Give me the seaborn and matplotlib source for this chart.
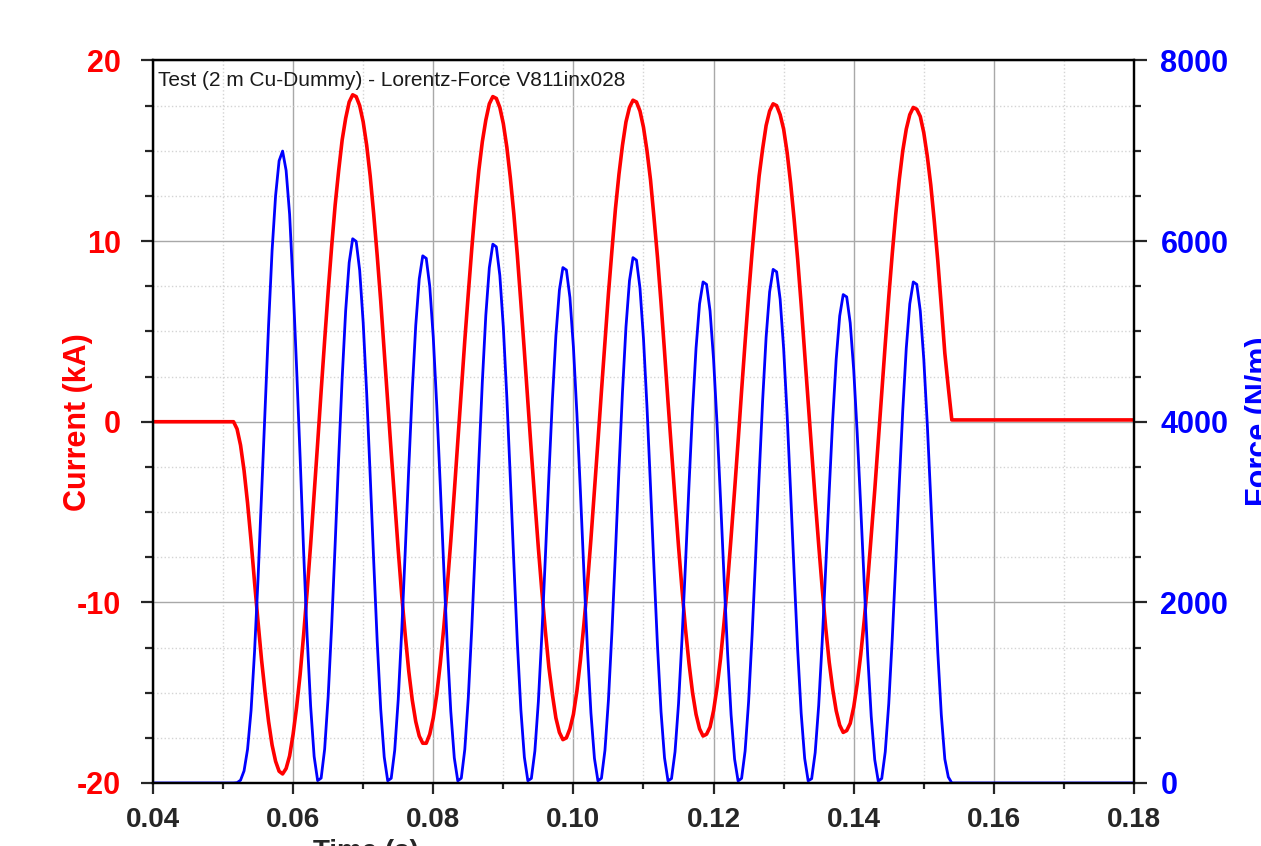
import matplotlib
matplotlib.use("Agg")
import matplotlib.pyplot as plt
import seaborn as sns
import numpy as np
import pandas as pd
from matplotlib.ticker import MultipleLocator, FormatStrFormatter

sns.set_style("white")
plt.rcParams['font.family'] = ['Liberation Sans', 'DejaVu Sans']
plt.rcParams['font.weight'] = 'bold'
plt.rcParams['axes.unicode_minus'] = False

title = "Test (2 m Cu-Dummy) - Lorentz-Force V811inx028"

# values, one sample every 0.5 ms from 0.0515 s to 0.1540 s
t_first = 0.0515
t_step = 0.0005

current_ka = [
    0.0, -0.4, -1.3, -2.7, -4.5, -6.6, -8.9, -11.1, -13.2, -15.0, -16.6, -17.9, -18.8,
    -19.35, -19.5, -19.2, -18.5, -17.3, -15.8, -14.0, -11.8, -9.4, -6.8, -4.0, -1.2,
    1.7, 4.5, 7.2, 9.7, 12.0, 13.9, 15.6, 16.8, 17.7, 18.1, 18.0, 17.5, 16.6, 15.3, 13.6, 11.5, 9.2, 6.7, 3.9, 1.1,
    -1.7, -4.4, -7.1, -9.6, -11.8, -13.8, -15.4, -16.6, -17.4, -17.8, -17.8, -17.3, -16.4, -15.1, -13.4, -11.4, -9.1, -6.6, -3.9, -1.1,
    1.7, 4.5, 7.1, 9.6, 11.9, 13.9, 15.5, 16.7, 17.6, 18.0, 17.9, 17.4, 16.5, 15.2, 13.5, 11.5, 9.2, 6.6, 3.9, 1.1,
    -1.7, -4.4, -7.0, -9.4, -11.6, -13.6, -15.1, -16.4, -17.2, -17.6, -17.5, -17.0, -16.2, -14.9, -13.2, -11.2, -9.0, -6.5, -3.8, -1.1,
    1.7, 4.4, 7.1, 9.5, 11.8, 13.7, 15.3, 16.6, 17.4, 17.8, 17.7, 17.2, 16.3, 15.0, 13.4, 11.3, 9.1, 6.6, 3.9, 1.1,
    -1.6, -4.3, -6.9, -9.3, -11.5, -13.4, -15.0, -16.2, -17.0, -17.4, -17.3, -16.9, -16.0, -14.7, -13.1, -11.1, -8.9, -6.4, -3.8, -1.1,
    1.7, 4.4, 7.0, 9.4, 11.6, 13.6, 15.1, 16.4, 17.2, 17.6, 17.5, 17.0, 16.2, 14.9, 13.2, 11.2, 9.0, 6.5, 3.8, 1.1,
    -1.6, -4.3, -6.8, -9.2, -11.4, -13.3, -14.8, -16.0, -16.8, -17.2, -17.1, -16.7, -15.8, -14.5, -12.9, -11.0, -8.8, -6.3, -3.8, -1.1,
    1.6, 4.3, 6.9, 9.3, 11.5, 13.4, 15.0, 16.2, 17.0, 17.4, 17.3, 16.9, 16.0, 14.7, 13.1, 11.1, 8.9, 6.4, 3.8, 1.9,
    0.1,
]

force_nm = [
    0, 3, 31, 134, 373, 802, 1458, 2267, 3206, 4140, 5070, 5896, 6503,
    6889, 6997, 6783, 6297, 5507, 4593, 3606, 2562, 1626, 851, 294, 26,
    54, 374, 954, 1737, 2646, 3592, 4482, 5230, 5762, 6026, 5997, 5676, 5096, 4313, 3404, 2458, 1567, 820, 288, 24,
    52, 362, 924, 1682, 2563, 3479, 4341, 5066, 5581, 5837, 5809, 5498, 4936, 4177, 3297, 2381, 1518, 794, 279, 23,
    53, 371, 945, 1720, 2620, 3556, 4437, 5179, 5705, 5966, 5937, 5620, 5046, 4270, 3370, 2434, 1552, 812, 285, 24,
    51, 354, 904, 1645, 2506, 3402, 4245, 4954, 5457, 5707, 5680, 5376, 4827, 4085, 3224, 2328, 1485, 776, 273, 23,
    52, 361, 921, 1677, 2554, 3467, 4326, 5049, 5562, 5817, 5789, 5479, 4919, 4163, 3286, 2373, 1513, 791, 278, 23,
    49, 345, 878, 1599, 2436, 3307, 4126, 4815, 5305, 5548, 5521, 5226, 4692, 3971, 3134, 2263, 1443, 755, 265, 22,
    51, 353, 900, 1639, 2497, 3390, 4230, 4937, 5438, 5687, 5660, 5357, 4810, 4070, 3213, 2320, 1479, 774, 272, 23,
    48, 336, 856, 1559, 2375, 3224, 4023, 4694, 5171, 5408, 5382, 5094, 4574, 3871, 3055, 2206, 1407, 736, 258, 21,
    49, 345, 878, 1599, 2436, 3307, 4126, 4815, 5305, 5548, 5521, 5226, 4692, 3971, 3134, 2263, 1443, 755, 265, 66,
    0,
]

# flat parts before and after the pulse
t_min, t_max = 0.04, 0.18
current_before, current_after = 0.0, 0.1
force_before, force_after = 0.0, 0.0

t = np.round(t_first + t_step * np.arange(len(current_ka)), 4)
df = pd.DataFrame({
    'time': np.concatenate([[t_min], t, [t_max]]),
    'current': [current_before] + current_ka + [current_after],
    'force': [force_before] + force_nm + [force_after],
})

fig = plt.figure(figsize=(12.61, 8.46), dpi=100)
ax = fig.add_axes([0.1213, 0.0745, 0.7780, 0.8540])
ax2 = ax.twinx()

sns.lineplot(data=df, x='time', y='current', ax=ax, color='#ff0000', linewidth=2.6,
             solid_joinstyle='round')
sns.lineplot(data=df, x='time', y='force', ax=ax2, color='#0000ff', linewidth=2.0,
             solid_joinstyle='round')

ax.set_xlim(t_min, t_max)
ax.set_ylim(-20, 20)
ax2.set_ylim(0, 8000)

ax.xaxis.set_major_locator(MultipleLocator(0.02))
ax.xaxis.set_minor_locator(MultipleLocator(0.01))
ax.xaxis.set_major_formatter(FormatStrFormatter('%.2f'))
ax.yaxis.set_major_locator(MultipleLocator(10))
ax.yaxis.set_minor_locator(MultipleLocator(2.5))
ax2.yaxis.set_major_locator(MultipleLocator(2000))
ax2.yaxis.set_minor_locator(MultipleLocator(500))

ax.grid(which='major', color='#a8a8a8', linewidth=1.0, linestyle='-')
ax.grid(which='minor', color='#d4d4d4', linewidth=1.0, linestyle=':')
ax2.grid(False)

for a in (ax, ax2):
    for s in a.spines.values():
        s.set_color('black')
        s.set_linewidth(1.6)

ax.tick_params(axis='x', which='major', direction='out', length=8, width=1.6, labelsize=20, pad=9, bottom=True)
ax.tick_params(axis='x', which='minor', direction='out', length=4.5, width=1.6, bottom=True)
ax.tick_params(axis='y', which='major', direction='out', length=9, width=1.6, labelsize=22, pad=14,
               labelcolor='#ff0000', left=True)
ax.tick_params(axis='y', which='minor', direction='out', length=6, width=1.6, left=True)
ax2.tick_params(axis='y', which='major', direction='out', length=9, width=1.6, labelsize=22, pad=10,
                labelcolor='#0000ff', right=True)
ax2.tick_params(axis='y', which='minor', direction='out', length=5, width=1.6, right=True)

ax.set_xlabel('Time (s)', fontsize=20, fontweight='bold')
ax.xaxis.set_label_coords(0.217, -0.077)
ax.set_ylabel('Current (kA)', fontsize=22, fontweight='bold', color='#ff0000')
ax.yaxis.set_label_coords(-0.061, 0.5)
ax2.set_ylabel('Force (N/m)', fontsize=22, fontweight='bold', color='#0000ff')
ax2.yaxis.set_label_coords(1.113, 0.5)

ax.text(0.005, 0.985, title, transform=ax.transAxes, ha='left', va='top',
        fontsize=15, fontweight='normal', color='#1a1a1a')

fig.savefig('out.png', dpi=100)
